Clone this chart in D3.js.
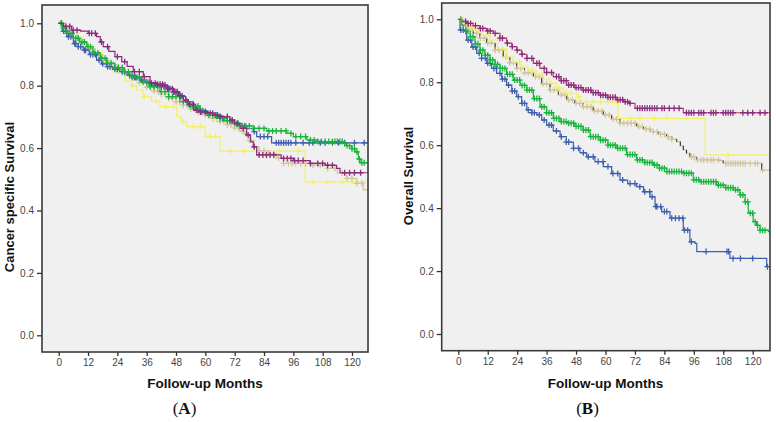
<!DOCTYPE html>
<html><head><meta charset="utf-8">
<script src="https://cdn.jsdelivr.net/npm/d3@7"></script>
<style>body{margin:0;background:#fff}svg{display:block}</style>
</head><body><svg id="c" width="776" height="422"></svg>
<script>
const monthTicks=[0,12,24,36,48,60,72,84,96,108,120];
const survTicks=[0,0.2,0.4,0.6,0.8,1.0];

// Panel A: Cancer specific survival (month, survival)
const csPurple=[[0,1],[2,0.99],[5.3,0.978],[9,0.975],[12.1,0.968],[15.5,0.957],[17,0.94],[18.2,0.925],[20.5,0.91],[23,0.893],[25.8,0.877],[28,0.862],[30.5,0.845],[34.6,0.829],[37.4,0.808],[40,0.805],[42.8,0.802],[44.5,0.79],[46.9,0.781],[49,0.768],[51,0.754],[53,0.74],[55.1,0.722],[57.5,0.716],[60.5,0.712],[63,0.706],[66,0.701],[70,0.69],[72,0.678],[74.2,0.663],[76.9,0.642],[78.5,0.62],[79.6,0.604],[81,0.578],[91,0.567],[96,0.56],[102.8,0.551],[109,0.545],[113.7,0.535],[115.1,0.521]];
const csBlue=[[0,1],[1.5,0.975],[3.3,0.957],[6,0.935],[8,0.925],[10,0.914],[12.5,0.9],[15.5,0.882],[17.5,0.87],[19.6,0.861],[22,0.853],[25,0.845],[28,0.833],[30.5,0.826],[33.3,0.818],[36,0.81],[38.7,0.802],[41.5,0.797],[44.2,0.792],[47,0.779],[49.6,0.765],[52,0.748],[55.1,0.728],[58,0.72],[60.5,0.712],[63.2,0.706],[66.5,0.696],[69,0.688],[71.4,0.679],[74,0.67],[77,0.662],[79.6,0.653],[81,0.637],[87.1,0.617]];
const csGreen=[[0,1],[1.5,0.985],[3.3,0.968],[6,0.952],[8.5,0.94],[11.5,0.925],[14,0.905],[17,0.888],[19.6,0.872],[23,0.858],[26.4,0.845],[30,0.828],[33.3,0.813],[37,0.797],[41.4,0.781],[45,0.765],[49.6,0.749],[53,0.735],[57.8,0.717],[61,0.705],[64.6,0.695],[68,0.688],[71.4,0.679],[75,0.671],[79.6,0.663],[85.1,0.655],[93.3,0.647],[96,0.637],[101.5,0.626],[106,0.621],[116.4,0.615],[117.8,0.608],[119.9,0.598],[121.2,0.588],[122.6,0.565],[123.3,0.553]];
const csTan=[[0,1],[2,0.985],[4,0.97],[6,0.955],[8.7,0.936],[12,0.918],[15,0.9],[18,0.882],[21,0.868],[24,0.855],[27,0.84],[30,0.825],[33,0.81],[36,0.795],[39,0.783],[42,0.772],[45,0.76],[48,0.748],[51,0.737],[54,0.725],[57,0.714],[60,0.705],[63,0.695],[66,0.685],[69,0.675],[72,0.665],[74,0.655],[76,0.645],[78,0.625],[80,0.605],[82,0.592],[86,0.582],[89,0.568],[92,0.551],[104,0.545],[110,0.535],[114,0.52],[117.8,0.503],[121.9,0.487],[124.6,0.466]];
const csYellow=[[0,1],[3,0.975],[6,0.955],[10,0.93],[14,0.905],[18,0.875],[21,0.855],[23.7,0.84],[27,0.815],[30,0.8],[31.9,0.786],[34.6,0.765],[38,0.75],[41.4,0.733],[48.3,0.701],[50,0.685],[52.4,0.669],[59.9,0.637],[66,0.59],[100.8,0.492]];

const csPurpleCens=[3,4.5,6,7.5,12.5,13.5,15,17.5,20,24,27,31,33,35,38,39.5,40.5,41.5,42.5,43.5,44.5,45.5,46.5,47.5,48.5,49.5,50.5,52,53.5,55,56.5,58,60,62,64,66,69,71,73,75.5,77.5,80,82,83.5,85,86.5,88,92,93.5,95,96.5,98,100,103,106,108,110,112,117,119,121,123.5];
const csBlueCens=[1,2,3,4,5,6.5,7,8,9,10.5,11,13,14,15,16.5,18,20,21,23,24,26,27,29,31,32,34,36,37,39,40,42,43,45,47,48,50,53,56,59,61,63,65,67,70,73,76,80,82.5,84,85.5,89,90,91,92,93,94,95,97,100,102.5,104,107,109,112,114.5,117,121,125];
const csGreenCens=[1,2,3.5,4.5,5.5,7,8,9.5,10.5,12,13,14.5,16,17.5,19,20,21.5,23,24.5,26,27,28.5,30,31.5,33,34.5,36,37.5,39,40.5,42,43.5,45,46.5,48,49.5,51,52.5,54,55.5,57,58.5,60,61.5,63,64.5,66,67.5,69,70.5,72,73.5,75,76.5,78,80,82,84,86,87.5,89,91,93,95,97,99,101,103,104.5,106,107.5,109,110.5,112,113,114,115,116,117,118,119,120,121,122,123,124,125];
const csTanCens=[1.5,3,4.5,6,7.5,9,10.5,12,13.5,15,16.5,18,19.5,21,22.5,24,25.5,27,28.5,30,31.5,33,34.5,36,37.5,39,40.5,42,43.5,45,46.5,48,49.5,51,52.5,54,55.5,57,58.5,60,61.5,63,64.5,66,67.5,69,70.5,72,73.5,75,76.5,78,80,82,84,86,88,90,92,94,95.5,97,99,101,104,107,110,113,116,118,120,122,124];
const csYellowCens=[8,16,22,30,35,40,44,47,51,55,58,62,64,70,76,82,90,98,104,110,116,120];

// Panel B: Overall survival (month, survival)
const osBlue=[[0,1],[0.7,0.966],[3.4,0.934],[5.5,0.912],[7.5,0.892],[9.5,0.876],[11.6,0.86],[13.6,0.844],[15.6,0.828],[17.7,0.81],[19.7,0.791],[21.8,0.772],[23.8,0.754],[25.8,0.733],[27.9,0.712],[30,0.703],[32,0.696],[34,0.68],[36,0.664],[38.7,0.645],[41.5,0.627],[44,0.61],[46.9,0.59],[49.6,0.576],[52.3,0.563],[55.7,0.548],[59.1,0.532],[62.5,0.51],[65.9,0.489],[69,0.478],[72.7,0.468],[75.5,0.452],[78.1,0.436],[80.2,0.405],[82.9,0.389],[86.3,0.368],[91.7,0.33],[94.4,0.293],[96.5,0.288],[97.2,0.262],[110.7,0.24],[125.7,0.214]];
const osGreen=[[0,1],[1.4,0.982],[3,0.962],[4.8,0.945],[6.8,0.922],[8.8,0.902],[10.8,0.886],[12.9,0.871],[15,0.857],[17,0.844],[19.7,0.825],[22.4,0.807],[25.2,0.79],[27.9,0.775],[30.6,0.748],[33.3,0.722],[36,0.703],[38.7,0.685],[41.5,0.675],[44.2,0.67],[47.5,0.66],[50.9,0.648],[53.7,0.627],[57.8,0.616],[61,0.6],[64.6,0.59],[68.6,0.57],[72.7,0.553],[76,0.545],[79.5,0.537],[82,0.527],[84.9,0.516],[91.7,0.511],[95.8,0.49],[98.5,0.484],[105.3,0.473],[109,0.465],[112.1,0.458],[114.8,0.442],[116.9,0.42],[118.2,0.384],[120.2,0.357],[121.6,0.345],[123,0.33],[126.4,0.325]];
const osTan=[[0,1],[2,0.987],[4,0.97],[6.1,0.955],[8.8,0.94],[11.6,0.924],[15,0.902],[18.3,0.881],[21,0.862],[23.8,0.844],[27,0.83],[30.6,0.818],[34,0.795],[37.4,0.775],[40.8,0.76],[44.2,0.744],[47.5,0.733],[50.9,0.722],[55,0.709],[59.1,0.696],[62.5,0.683],[65.9,0.67],[72.7,0.659],[75.5,0.651],[78.1,0.643],[81.5,0.635],[84.9,0.627],[87,0.619],[89,0.611],[90.5,0.598],[91.7,0.585],[93,0.574],[94.4,0.563],[97.2,0.553],[106.7,0.551],[108,0.542],[123.7,0.521]];
const osYellow=[[0,1],[2,0.985],[4,0.975],[6.1,0.966],[9.5,0.95],[12.9,0.934],[16,0.908],[19.7,0.881],[22.4,0.865],[25.1,0.849],[28.5,0.836],[32,0.823],[34.7,0.81],[37.4,0.797],[40,0.781],[42.8,0.765],[48.3,0.754],[50,0.738],[65.2,0.685],[100.6,0.569]];
const osPurple=[[0,1],[1.5,0.993],[3.4,0.987],[6,0.98],[8.8,0.971],[11.5,0.963],[14.3,0.955],[17,0.94],[19.7,0.924],[21.8,0.913],[23.8,0.902],[25.8,0.889],[27.9,0.876],[30.6,0.86],[33.3,0.844],[36,0.831],[38.7,0.818],[41.5,0.805],[44.2,0.791],[47.5,0.783],[50.9,0.775],[54.3,0.767],[57.8,0.759],[61,0.752],[64.6,0.744],[67.3,0.738],[70,0.733],[72,0.717],[91.7,0.703]];

const osBlueCens=[1,2,3,4,5,6,7,8.5,9.5,11,12,13,14.5,15.5,17,18,19,20.5,22,23,24.5,26,27,28.5,30,31,33,35,37,38,40,42,44,45,47,49,51,53,55,57,59,61,63,65,67,70,72,74,76,78,79,80.5,81,82.5,84,85,87,88.5,90,91.5,92.2,93.5,95,101,109.5,110.2,112,115,120,126];
const osGreenCens=[1,2,3,4,5,6,7,8,9,10,11,12,13,14,15,16,17,18,19,20,21,22,23,24,25,26,27,28,29,30,31,32,33,34,35,36,37,38,39,40,41,42,43,44,45,46,47,48,49,50,51,52,53,54,55,56,57,58,59,60,61,62,63,64,65,66,67,68,69,70,71,72,73,74,75,76,77,78,79,80,81,82,83,84,85,86,87,88,89,90,91,92,93,94,95,96,97,98,99,100,101,102,103,104,105,106,107,108,109,110,111,112,113,114,115,116,117,118,119,120,121,122,123,124,125];
const osTanCens=[1.5,3,4.5,6,7.5,9,10.5,12,13.5,15,16.5,18,19.5,21,22.5,24,25.5,27,28.5,30,31.5,33,34.5,36,37.5,39,40.5,42,43.5,45,46.5,48,49.5,51,52.5,54,55.5,57,58.5,60,61.5,63,64.5,66,67.5,69,70.5,72,73.5,75,76.5,78,79.5,81,82.5,84,85.5,87,95,96,97.5,99,100,101.5,103,104,106,109,110,111,112,113,114,115,116,117,119,121,122,124];
const osYellowCens=[5,8,12,20,25,30,34,38,41,44,46,49,52,55,58,61,63,64.5,70,74,80,85,110];
const osPurpleCens=[3,4,5,7,9,10,12,13,15,17,18,20,22,24,26,28,30,32,33,35,36,38,40,41,42,43,44,45,46,47,48,49,50,51,52,53,54,55,56,57,58,59,60,61,62,63,64,65,66,67,68,69,70,73,74,75,76,77,78,79,80,81,83,84,86,88,90,93,94,95,96,98,99,100,103,104,105,108,109,110,111,112,116,118,120,123,125];

const COL={blue:"#3d5fb0",green:"#16b43a",yellow:"#f3ee6c",tan:"#d1c59a",purple:"#8b2b7d",red:"#c93b5e"};

const svg=d3.select("#c");
const fontSans="Liberation Sans, Arial, sans-serif";

function panel(cfg){
  const g=svg.append("g");
  const x=d3.scaleLinear().domain([0,120]).range([cfg.x0,cfg.x120]);
  const y=d3.scaleLinear().domain([0,1]).range([cfg.y0,cfg.y1]);
  const tEnd=x.invert(cfg.right);
  g.append("rect").attr("x",cfg.left).attr("y",cfg.top)
    .attr("width",cfg.right-cfg.left).attr("height",cfg.bottom-cfg.top).attr("fill","#f0f0f0");
  const cid="clip"+cfg.id;
  svg.append("clipPath").attr("id",cid).append("rect")
    .attr("x",cfg.left).attr("y",cfg.top).attr("width",cfg.right-cfg.left).attr("height",cfg.bottom-cfg.top);
  const pg=g.append("g").attr("clip-path","url(#"+cid+")");
  const line=d3.line().x(d=>x(d[0])).y(d=>y(d[1])).curve(d3.curveStepAfter);
  const bis=d3.bisector(d=>d[0]).right;
  cfg.series.forEach(s=>{
    const data=s.data.concat([[tEnd,s.data[s.data.length-1][1]]]);
    pg.append("path").attr("d",line(data)).attr("fill","none")
      .attr("stroke",s.line||s.color).attr("stroke-width",1.2);
    if(s.dropColor){
      pg.append("g").selectAll("line").data(s.data.slice(1).map((d,i)=>[d[0],s.data[i][1],d[1]]))
        .join("line").attr("x1",d=>x(d[0])).attr("x2",d=>x(d[0]))
        .attr("y1",d=>y(d[1])).attr("y2",d=>y(d[2])).attr("stroke",s.dropColor).attr("stroke-width",1);
    }
    const pts=s.cens.map(c=>{const i=bis(s.data,c)-1;return [c,s.data[Math.max(0,i)][1]];});
    pg.append("path").attr("d",pts.map(p=>{const px=x(p[0]),py=y(p[1]);
      return `M${px-3},${py}h6M${px},${py-3}v6`;}).join(""))
      .attr("stroke",s.color).attr("stroke-width",1.3).attr("fill","none");
  });
  g.append("rect").attr("x",cfg.left).attr("y",cfg.top)
    .attr("width",cfg.right-cfg.left).attr("height",cfg.bottom-cfg.top)
    .attr("fill","none").attr("stroke","#3a3a3a").attr("stroke-width",1.6);
  const ya=g.append("g").attr("transform",`translate(${cfg.left},0)`)
    .call(d3.axisLeft(y).tickValues(survTicks).tickFormat(d3.format(".1f")).tickSize(5).tickPadding(3));
  const xa=g.append("g").attr("transform",`translate(0,${cfg.bottom})`)
    .call(d3.axisBottom(x).tickValues(monthTicks).tickFormat(d3.format("d")).tickSize(4).tickPadding(3));
  [ya,xa].forEach(a=>{a.select(".domain").remove();
    a.selectAll(".tick line").attr("stroke","#333").attr("stroke-width",1.3);
    a.selectAll(".tick text").attr("fill","#444").attr("font-size",10).attr("font-family",fontSans);});
  g.append("text").attr("transform",`translate(${cfg.ytx},${cfg.yty}) rotate(-90)`)
    .attr("text-anchor","middle").attr("font-family",fontSans).attr("font-weight","bold")
    .attr("font-size",13).attr("fill","#111").text(cfg.ytitle);
  g.append("text").attr("x",cfg.xtx).attr("y",388).attr("text-anchor","middle")
    .attr("font-family",fontSans).attr("font-weight","bold").attr("font-size",13.5).attr("fill","#111")
    .text("Follow-up Months");
  g.append("text").attr("x",cfg.labx).attr("y",414).attr("text-anchor","middle")
    .attr("font-family","Liberation Serif, Times New Roman, serif").attr("font-size",17).attr("fill","#111")
    .html("(<tspan font-weight='bold'>"+cfg.label+"</tspan>)");
}

panel({id:"A",left:42,right:368,top:5,bottom:352,x0:58.7,x120:352,y0:335.3,y1:23.3,
  ytitle:"Cancer specific Survival",ytx:14,yty:197,xtx:205,labx:184.5,label:"A",
  series:[
    {data:csYellow,cens:csYellowCens,color:COL.yellow},
    {data:csTan,cens:csTanCens,color:COL.tan},
    {data:csBlue,cens:csBlueCens,color:COL.blue},
    {data:csGreen,cens:csGreenCens,color:COL.green},
    {data:csPurple,cens:csPurpleCens,color:COL.purple}
  ]});
panel({id:"B",left:441.7,right:770,top:3,bottom:350.7,x0:458.3,x120:752.7,y0:334,y1:19.3,
  ytitle:"Overall Survival",ytx:413,yty:176,xtx:605.5,labx:587.5,label:"B",
  series:[
    {data:osBlue,cens:osBlueCens,color:COL.blue},
    {data:osGreen,cens:osGreenCens,color:COL.green},
    {data:osTan,cens:osTanCens,color:COL.tan,dropColor:"#222"},
    {data:osYellow,cens:osYellowCens,color:COL.yellow},
    {data:osPurple,cens:osPurpleCens,color:COL.purple,line:COL.red}
  ]});
</script></body></html>
